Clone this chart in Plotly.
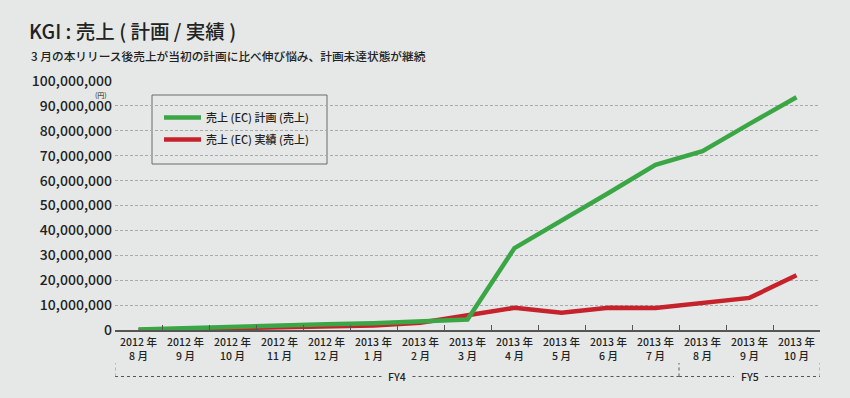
import plotly.graph_objects as go

# ---- data ----
years = ["2012", "2012", "2012", "2012", "2012", "2013", "2013", "2013",
         "2013", "2013", "2013", "2013", "2013", "2013", "2013"]
months = ["8", "9", "10", "11", "12", "1", "2", "3",
          "4", "5", "6", "7", "8", "9", "10"]
categories = [f"{y} 年<br>{m} 月" for y, m in zip(years, months)]

plan_values = [200000, 800000, 1300000, 1800000, 2300000, 2700000, 3400000, 4200000,
               32900000, 43800000, 55000000, 66300000, 71800000, 82800000, 93500000]
actual_values = [0, 300000, 600000, 900000, 1300000, 1800000, 2900000, 6000000,
                 8900000, 6900000, 8900000, 8800000, 10800000, 12900000, 22000000]

plan_name = "売上 (EC) 計画 (売上)"
actual_name = "売上 (EC) 実績 (売上)"

y_ticks = [0, 10000000, 20000000, 30000000, 40000000, 50000000,
           60000000, 70000000, 80000000, 90000000, 100000000]

fiscal_labels = ["FY4", "FY5"]
fiscal_start = [0, 12]   # first category index
fiscal_end = [11, 14]    # last category index

title_text = "KGI : 売上 ( 計画 / 実績 )"
subtitle_text = "3 月の本リリース後売上が当初の計画に比べ伸び悩み、計画未達状態が継続"

# ---- style ----
FONT = "Noto Sans CJK JP"
BG = "#e5e8e6"
GREEN = "#3ba645"
RED = "#c6222b"
TXT = "#222222"

fig = go.Figure()
# actual drawn first so the plan line sits on top (legend order kept via legendrank)
fig.add_trace(go.Scatter(x=categories, y=actual_values, mode="lines", name=actual_name,
                         line=dict(color=RED, width=4.5), legendrank=2, legendgroup="b"))
fig.add_trace(go.Scatter(x=categories, y=plan_values, mode="lines", name=plan_name,
                         line=dict(color=GREEN, width=4.5), legendrank=1, legendgroup="a"))

W, H = 850, 398
L, R, T, B = 115, 30, 81, 68
pw, ph = W - L - R, H - T - B


def px_x(p):
    return (p - L) / pw


def px_y(p):
    return (H - B - p) / ph


fig.update_layout(
    width=W, height=H,
    margin=dict(l=L, r=R, t=T, b=B, pad=0, autoexpand=False),
    paper_bgcolor=BG, plot_bgcolor=BG,
    font=dict(family=FONT, color=TXT),
    title=dict(text=title_text, x=29 / W, xanchor="left", xref="container",
               y=1 - 32 / H, yanchor="middle", yref="container",
               font=dict(size=19.5, family=FONT, color=TXT, weight=500)),
    showlegend=True,
    legend=dict(x=px_x(159), xanchor="left", y=px_y(103), yanchor="top",
                bgcolor="rgba(0,0,0,0)", borderwidth=0, itemwidth=37,
                font=dict(size=11, family=FONT, color=TXT, weight=500),
                tracegroupgap=3, traceorder="grouped"),
    xaxis=dict(type="category", tickson="boundaries", range=[-0.5, 14.5],
               automargin=False, ticklabelstandoff=2,
               showline=True, linecolor="#555555", linewidth=1.5,
               ticks="inside", ticklen=5, tickcolor="#555555", tickwidth=1.2,
               showgrid=False, zeroline=False,
               tickfont=dict(size=10.5, family=FONT, color=TXT, weight=500)),
    yaxis=dict(range=[0, 100000000], tickvals=y_ticks, automargin=False,
               ticktext=[f"{v:,}" for v in y_ticks], ticklabelstandoff=2,
               showline=False, ticks="", zeroline=False,
               showgrid=True, gridcolor="#a9abaa", gridwidth=1, griddash="3px,2px",
               tickfont=dict(size=14, family=FONT, color=TXT, weight=500)),
)

# legend frame
fig.add_shape(type="rect", xref="paper", yref="paper",
              x0=px_x(152), x1=px_x(327), y0=px_y(164), y1=px_y(95),
              line=dict(color="#6a6a6a", width=1), fillcolor="rgba(0,0,0,0)", layer="below")

# subtitle and unit
fig.add_annotation(text=subtitle_text, xref="paper", yref="paper",
                   x=px_x(29), y=px_y(55), xanchor="left", yanchor="middle",
                   showarrow=False, font=dict(size=11.7, family=FONT, color=TXT, weight=500))
fig.add_annotation(text="(円)", xref="paper", yref="paper",
                   x=px_x(108), y=px_y(95), xanchor="right", yanchor="middle",
                   showarrow=False, borderpad=0,
                   font=dict(size=7, family=FONT, color=TXT))

# fiscal-year brackets under the axis
y_line = px_y(376.5)
y_top = px_y(363)
dot = dict(color="#555555", width=1, dash="dot")
for lab, s, e in zip(fiscal_labels, fiscal_start, fiscal_end):
    x0, x1 = s - 0.5, e + 0.5
    xc = (x0 + x1) / 2
    gap = 0.33
    fig.add_shape(type="line", xref="x", yref="paper", x0=x0, x1=xc - gap,
                  y0=y_line, y1=y_line, line=dot)
    fig.add_shape(type="line", xref="x", yref="paper", x0=xc + gap, x1=x1,
                  y0=y_line, y1=y_line, line=dot)
    for xv in (x0, x1):
        fig.add_shape(type="line", xref="x", yref="paper", x0=xv, x1=xv,
                      y0=y_line, y1=y_top, line=dict(color="#888888", width=1, dash="dot"))
    fig.add_annotation(text=lab, xref="x", yref="paper", x=xc, y=y_line,
                       xanchor="center", yanchor="middle", showarrow=False,
                       font=dict(size=10.5, family=FONT, color=TXT, weight=500))

fig.write_html(
    "out.html",
    config={"displayModeBar": False},
    post_script=f"document.body.style.margin='0';document.body.style.background='{BG}';",
)
